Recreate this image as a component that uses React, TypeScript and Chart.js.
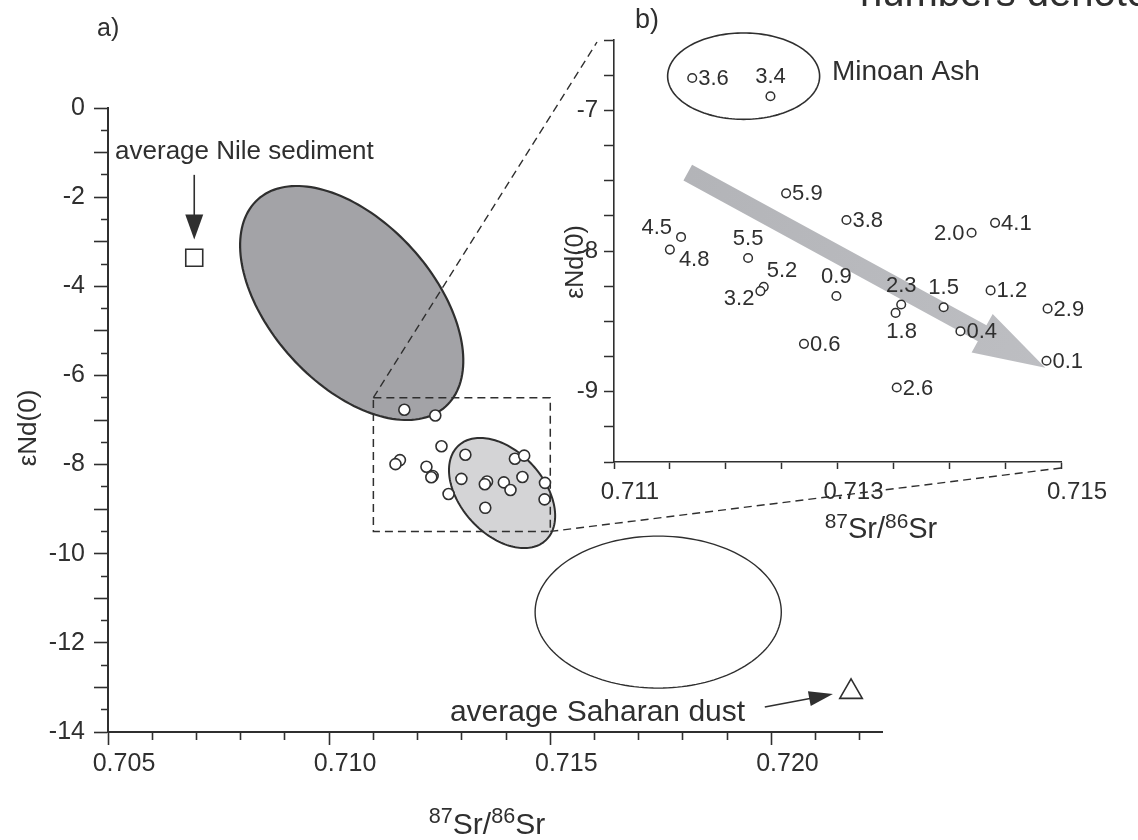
import React, { useEffect, useRef } from 'react';
import { Chart, registerables } from 'chart.js';

Chart.register(...registerables);

const FONT = '"Liberation Sans", Arial, Helvetica, sans-serif';
const INK = '#2f2f2f';

// ---------- data ----------
// Sediment samples: 87Sr/86Sr, eps Nd(0), and the numbers written next to them in panel b
const sampleAges = ['3.6', '3.4', '4.5', '4.8', '5.5', '5.2', '3.2', '5.9', '3.8', '0.9', '2.3', '1.8', '1.5', '0.6', '0.4', '2.0', '4.1', '1.2', '2.9', '0.1', '2.6'];
const sampleSr = [0.7117, 0.7124, 0.7116, 0.7115, 0.7122, 0.71234, 0.71231, 0.71254, 0.71308, 0.71299, 0.71357, 0.71352, 0.71395, 0.7127, 0.7141, 0.7142, 0.71441, 0.71437, 0.71488, 0.71487, 0.71353];
const sampleNd = [-6.77, -6.9, -7.9, -7.99, -8.05, -8.255, -8.285, -7.59, -7.78, -8.32, -8.38, -8.44, -8.4, -8.66, -8.57, -7.87, -7.8, -8.28, -8.41, -8.78, -8.97];
// where each number sits relative to its circle in panel b
const sampleLabelSide = ['r', 'a', 'ul', 'dr', 'a', 'ur', 'dl', 'r', 'r', 'a', 'a', 'b', 'a', 'r', 'r', 'l', 'r', 'r', 'r', 'r', 'r'];

const nileAvgSr = [0.70695];
const nileAvgNd = [-3.36];
const saharanAvgSr = [0.7218];
const saharanAvgNd = [-13.1];

const mainXTickLabels = ['0.705', '0.710', '0.715', '0.720'];
const mainYTickLabels = ['0', '-2', '-4', '-6', '-8', '-10', '-12', '-14'];
const insetXTickLabels = ['0.711', '0.713', '0.715'];
const insetYTickLabels = ['-7', '-8', '-9'];

const mainXRange = [0.705, 0.7225];
const mainYRange = [-14, 0];
const insetXRange = [0.711, 0.715];
const insetYRange = [-9.5, -6.5];

// fields (ellipses) in data units: centre + two conjugate semi-axes
const nileField = { cx: 0.71051, cy: -4.375, ux: 0.002124, uy: -2.322, vx: -0.001362, vy: -1.225 };
const coreField = { cx: 0.71391, cy: -8.638, ux: 0.000982, uy: -1.066, vx: -0.00069, vy: -0.626 };
const saharanField = { cx: 0.71744, cy: -11.31, ux: 0.002783, uy: 0, vx: 0, vy: 1.705 };
const minoanField = { cx: 0.71216, cy: -6.757, ux: 0.00068, uy: 0, vx: 0, vy: 0.307 };

// zoom box of panel a = extent of panel b
const zoomBoxSr = [0.711, 0.715];
const zoomBoxNd = [-9.5, -6.5];

// annotation arrows (start, end)
const nileArrowSr = [0.70695, 0.70695];
const nileArrowNd = [-1.5, -2.95];
const saharanArrowSr = [0.71985, 0.72139];
const saharanArrowNd = [-13.44, -13.15];
const trendArrowSr = [0.71166, 0.71486];
const trendArrowNd = [-7.443, -8.83];

// annotation text anchors
const nileTextAt = [0.70516, -1.14];
const saharanTextAt = [0.71273, -13.75];
const minoanTextAt = [0.71295, -6.786];

// ---------- helpers ----------
const labelFor = (labels: string[]) => (v: number) => {
  const hit = labels.find((l) => Math.abs(parseFloat(l) - v) < 1e-7);
  return hit ?? '';
};
const isLabelled = (labels: string[], v: number) => labels.some((l) => Math.abs(parseFloat(l) - v) < 1e-7);

function ellipsePath(ctx: CanvasRenderingContext2D, xs: any, ys: any, e: any) {
  ctx.beginPath();
  const n = 160;
  for (let i = 0; i <= n; i++) {
    const t = (i / n) * Math.PI * 2;
    const px = xs.getPixelForValue(e.cx + e.ux * Math.cos(t) + e.vx * Math.sin(t));
    const py = ys.getPixelForValue(e.cy + e.uy * Math.cos(t) + e.vy * Math.sin(t));
    if (i === 0) ctx.moveTo(px, py);
    else ctx.lineTo(px, py);
  }
  ctx.closePath();
}

function lineArrow(ctx: CanvasRenderingContext2D, x1: number, y1: number, x2: number, y2: number, headLen: number, headHalf: number, width: number) {
  const dx = x2 - x1, dy = y2 - y1;
  const L = Math.hypot(dx, dy);
  const ux = dx / L, uy = dy / L;
  const nx = -uy, ny = ux;
  const bx = x2 - ux * headLen, by = y2 - uy * headLen;
  ctx.save();
  ctx.strokeStyle = INK;
  ctx.fillStyle = INK;
  ctx.lineWidth = width;
  ctx.beginPath();
  ctx.moveTo(x1, y1);
  ctx.lineTo(bx + ux * 2, by + uy * 2);
  ctx.stroke();
  ctx.beginPath();
  ctx.moveTo(x2, y2);
  ctx.lineTo(bx + nx * headHalf, by + ny * headHalf);
  ctx.lineTo(bx - nx * headHalf, by - ny * headHalf);
  ctx.closePath();
  ctx.fill();
  ctx.restore();
}

function isotopeRatio(ctx: CanvasRenderingContext2D, cx: number, baseline: number, size: number) {
  const supSize = size * 0.72;
  const parts: [string, boolean][] = [['87', true], ['Sr/', false], ['86', true], ['Sr', false]];
  let total = 0;
  const widths = parts.map(([t, sup]) => {
    ctx.font = `${sup ? supSize : size}px ${FONT}`;
    const w = ctx.measureText(t).width;
    total += w;
    return w;
  });
  let x = cx - total / 2;
  ctx.textAlign = 'left';
  ctx.textBaseline = 'alphabetic';
  parts.forEach(([t, sup], i) => {
    ctx.font = `${sup ? supSize : size}px ${FONT}`;
    ctx.fillText(t, x, sup ? baseline - size * 0.36 : baseline);
    x += widths[i];
  });
}

function rotatedText(ctx: CanvasRenderingContext2D, text: string, cx: number, cy: number, size: number) {
  ctx.save();
  ctx.translate(cx, cy);
  ctx.rotate(-Math.PI / 2);
  ctx.font = `${size}px ${FONT}`;
  ctx.textAlign = 'center';
  ctx.textBaseline = 'middle';
  ctx.fillText(text, 0, 0);
  ctx.restore();
}

const W = 1138;
const H = 840;

export default function App() {
  const mainRef = useRef<HTMLCanvasElement>(null);
  const insetRef = useRef<HTMLCanvasElement>(null);

  useEffect(() => {
    const mainCanvas = mainRef.current;
    const insetCanvas = insetRef.current;
    if (!mainCanvas || !insetCanvas) return;

    const samplePoints = sampleSr.map((x, i) => ({ x, y: sampleNd[i] }));

    const panelA = {
      id: 'panelA',
      beforeDatasetsDraw(chart: any) {
        const { ctx } = chart;
        const xs = chart.scales.x, ys = chart.scales.y;
        ctx.save();
        ellipsePath(ctx, xs, ys, nileField);
        ctx.fillStyle = '#a3a3a7';
        ctx.fill();
        ctx.lineWidth = 2.2;
        ctx.strokeStyle = INK;
        ctx.stroke();
        ellipsePath(ctx, xs, ys, coreField);
        ctx.fillStyle = '#d4d4d6';
        ctx.fill();
        ctx.lineWidth = 2;
        ctx.stroke();
        ellipsePath(ctx, xs, ys, saharanField);
        ctx.lineWidth = 1.4;
        ctx.stroke();
        const x0 = xs.getPixelForValue(zoomBoxSr[0]);
        const x1 = xs.getPixelForValue(zoomBoxSr[1]);
        const y0 = ys.getPixelForValue(zoomBoxNd[1]);
        const y1 = ys.getPixelForValue(zoomBoxNd[0]);
        ctx.setLineDash([8, 5]);
        ctx.lineWidth = 1.5;
        ctx.strokeRect(x0, y0, x1 - x0, y1 - y0);
        ctx.restore();
      },
      afterDraw(chart: any) {
        const { ctx } = chart;
        const xs = chart.scales.x, ys = chart.scales.y;
        ctx.save();
        ctx.fillStyle = INK;
        // panel letter
        ctx.font = `25px ${FONT}`;
        ctx.textAlign = 'left';
        ctx.textBaseline = 'alphabetic';
        ctx.fillText('a)', 97, 36);
        // cut-off caption at the top
        ctx.font = `40px ${FONT}`;
        ctx.fillText('numbers denote', 860, 6);
        // annotations
        ctx.font = `26px ${FONT}`;
        ctx.fillText('average Nile sediment', xs.getPixelForValue(nileTextAt[0]), ys.getPixelForValue(nileTextAt[1]));
        ctx.font = `30px ${FONT}`;
        ctx.fillText('average Saharan dust', xs.getPixelForValue(saharanTextAt[0]), ys.getPixelForValue(saharanTextAt[1]));
        lineArrow(ctx, xs.getPixelForValue(nileArrowSr[0]), ys.getPixelForValue(nileArrowNd[0]), xs.getPixelForValue(nileArrowSr[1]), ys.getPixelForValue(nileArrowNd[1]), 25, 9, 1.6);
        lineArrow(ctx, xs.getPixelForValue(saharanArrowSr[0]), ys.getPixelForValue(saharanArrowNd[0]), xs.getPixelForValue(saharanArrowSr[1]), ys.getPixelForValue(saharanArrowNd[1]), 24, 7.5, 1.6);
        // axis titles
        ctx.fillStyle = INK;
        isotopeRatio(ctx, 487, 834, 30);
        rotatedText(ctx, 'εNd(0)', 29, 428, 26);
        ctx.restore();
      },
    };

    const mainChart = new Chart(mainCanvas, {
      type: 'scatter',
      data: {
        datasets: [
          {
            label: 'sediment samples',
            data: samplePoints,
            pointRadius: 5.5,
            pointBackgroundColor: '#ffffff',
            pointBorderColor: INK,
            pointBorderWidth: 1.6,
          },
          {
            label: 'average Nile sediment',
            data: nileAvgSr.map((x, i) => ({ x, y: nileAvgNd[i] })),
            pointStyle: 'rect',
            pointRadius: 12,
            pointBackgroundColor: '#ffffff',
            pointBorderColor: INK,
            pointBorderWidth: 1.6,
          },
          {
            label: 'average Saharan dust',
            data: saharanAvgSr.map((x, i) => ({ x, y: saharanAvgNd[i] })),
            pointStyle: 'triangle',
            pointRadius: 13,
            pointBackgroundColor: '#ffffff',
            pointBorderColor: INK,
            pointBorderWidth: 1.6,
          },
        ],
      },
      options: {
        responsive: false,
        animation: false,
        events: [],
        layout: { padding: { left: 0, top: 108, right: 256, bottom: 0 } },
        plugins: { legend: { display: false }, tooltip: { enabled: false }, title: { display: false } },
        scales: {
          x: {
            type: 'linear',
            min: mainXRange[0],
            max: mainXRange[1],
            afterFit: (s: any) => {
              s.height = 108;
              s.paddingLeft = 0; s.paddingRight = 0; s.paddingTop = 0; s.paddingBottom = 0;
            },
            border: { display: true, color: INK, width: 2 },
            grid: {
              display: true,
              drawOnChartArea: false,
              drawTicks: true,
              tickLength: 13,
              tickColor: INK,
              tickWidth: 1.6,
              tickBorderDash: (c: any) => (c.tick && isLabelled(mainXTickLabels, c.tick.value) ? [] : [7, 100]),
            },
            ticks: {
              stepSize: 0.001,
              includeBounds: false,
              autoSkip: false,
              maxRotation: 0,
              minRotation: 0,
              padding: 4,
              labelOffset: 16,
              color: INK,
              font: { family: FONT, size: 25 },
              callback: labelFor(mainXTickLabels),
            },
          },
          y: {
            type: 'linear',
            min: mainYRange[0],
            max: mainYRange[1],
            afterFit: (s: any) => {
              s.width = 108;
              s.paddingLeft = 0; s.paddingRight = 0; s.paddingTop = 0; s.paddingBottom = 0;
            },
            border: { display: true, color: INK, width: 2 },
            grid: {
              display: true,
              drawOnChartArea: false,
              drawTicks: true,
              tickLength: 14,
              tickColor: INK,
              tickWidth: 1.6,
              tickBorderDash: (c: any) => (c.tick && Math.abs(c.tick.value - Math.round(c.tick.value)) < 1e-6 ? [] : [0, 7, 7, 100]),
            },
            ticks: {
              stepSize: 0.5,
              autoSkip: false,
              padding: 9,
              color: INK,
              font: { family: FONT, size: 25 },
              callback: labelFor(mainYTickLabels),
            },
          },
        },
      },
      plugins: [panelA],
    } as any);

    const panelB = {
      id: 'panelB',
      beforeDatasetsDraw(chart: any) {
        const { ctx } = chart;
        const xs = chart.scales.x, ys = chart.scales.y;
        ctx.save();
        // broad grey trend arrow
        const x1 = xs.getPixelForValue(trendArrowSr[0]), y1 = ys.getPixelForValue(trendArrowNd[0]);
        const x2 = xs.getPixelForValue(trendArrowSr[1]), y2 = ys.getPixelForValue(trendArrowNd[1]);
        const L = Math.hypot(x2 - x1, y2 - y1);
        const ux = (x2 - x1) / L, uy = (y2 - y1) / L;
        const nx = -uy, ny = ux;
        const sw = 9, hw = 22, hl = 72;
        const bx = x2 - ux * hl, by = y2 - uy * hl;
        ctx.beginPath();
        ctx.moveTo(x1 + nx * sw, y1 + ny * sw);
        ctx.lineTo(bx + nx * sw, by + ny * sw);
        ctx.lineTo(bx + nx * hw, by + ny * hw);
        ctx.lineTo(x2, y2);
        ctx.lineTo(bx - nx * hw, by - ny * hw);
        ctx.lineTo(bx - nx * sw, by - ny * sw);
        ctx.lineTo(x1 - nx * sw, y1 - ny * sw);
        ctx.closePath();
        const g = ctx.createLinearGradient(x1, y1, x2, y2);
        g.addColorStop(0, '#b3b4b8');
        g.addColorStop(1, '#bdbec2');
        ctx.fillStyle = g;
        ctx.fill();
        // Minoan ash field
        ellipsePath(ctx, xs, ys, minoanField);
        ctx.strokeStyle = INK;
        ctx.lineWidth = 1.6;
        ctx.stroke();
        ctx.restore();
      },
      afterDatasetsDraw(chart: any) {
        const { ctx } = chart;
        const xs = chart.scales.x, ys = chart.scales.y;
        ctx.save();
        ctx.fillStyle = INK;
        ctx.font = `22px ${FONT}`;
        ctx.textBaseline = 'middle';
        sampleAges.forEach((txt, i) => {
          const px = xs.getPixelForValue(sampleSr[i]);
          const py = ys.getPixelForValue(sampleNd[i]);
          const side = sampleLabelSide[i];
          let tx = px, ty = py + 1;
          let align: CanvasTextAlign = 'left';
          if (side === 'r') { tx = px + 6; }
          else if (side === 'l') { tx = px - 7; align = 'right'; }
          else if (side === 'a') { ty = py - 19; align = 'center'; }
          else if (side === 'b') { tx = px + 6; ty = py + 19; align = 'center'; }
          else if (side === 'ul') { tx = px - 9; ty = py - 9; align = 'right'; }
          else if (side === 'dr') { tx = px + 9; ty = py + 10; }
          else if (side === 'ur') { tx = px + 3; ty = py - 16; }
          else if (side === 'dl') { tx = px - 6; ty = py + 8; align = 'right'; }
          ctx.textAlign = align;
          ctx.fillText(txt, tx, ty);
        });
        ctx.restore();
      },
      afterDraw(chart: any) {
        const { ctx, chartArea } = chart;
        const xs = chart.scales.x, ys = chart.scales.y;
        ctx.save();
        ctx.fillStyle = INK;
        ctx.textAlign = 'left';
        ctx.textBaseline = 'alphabetic';
        ctx.font = `27px ${FONT}`;
        ctx.fillText('b)', 635, 28);
        ctx.font = `28px ${FONT}`;
        ctx.fillText('Minoan Ash', xs.getPixelForValue(minoanTextAt[0]), ys.getPixelForValue(minoanTextAt[1]));
        isotopeRatio(ctx, 881, 538, 29);
        rotatedText(ctx, 'εNd(0)', 576, 262, 25);
        // connection lines from the zoom box in panel a
        const mx = mainChart.scales.x, my = mainChart.scales.y;
        ctx.setLineDash([8, 5]);
        ctx.strokeStyle = INK;
        ctx.lineWidth = 1.4;
        ctx.beginPath();
        ctx.moveTo(mx.getPixelForValue(zoomBoxSr[0]), my.getPixelForValue(zoomBoxNd[1]));
        ctx.lineTo(chartArea.left - 17, chartArea.top + 2);
        ctx.moveTo(mx.getPixelForValue(zoomBoxSr[1]), my.getPixelForValue(zoomBoxNd[0]));
        ctx.lineTo(xs.getPixelForValue(insetXRange[1]), chartArea.bottom + 6);
        ctx.stroke();
        ctx.restore();
      },
    };

    const insetChart = new Chart(insetCanvas, {
      type: 'scatter',
      data: {
        datasets: [
          {
            label: 'sediment samples',
            data: samplePoints,
            pointRadius: 4.3,
            pointBackgroundColor: '#ffffff',
            pointBorderColor: INK,
            pointBorderWidth: 1.5,
          },
        ],
      },
      options: {
        responsive: false,
        animation: false,
        events: [],
        layout: { padding: { left: 0, top: 40, right: 77, bottom: 0 } },
        plugins: { legend: { display: false }, tooltip: { enabled: false }, title: { display: false } },
        scales: {
          x: {
            type: 'linear',
            min: insetXRange[0],
            max: insetXRange[1],
            afterFit: (s: any) => {
              s.height = 378;
              s.paddingLeft = 0; s.paddingRight = 0; s.paddingTop = 0; s.paddingBottom = 0;
            },
            border: { display: true, color: INK, width: 1.6 },
            grid: { display: true, drawOnChartArea: false, drawTicks: true, tickLength: 7, tickColor: INK, tickWidth: 1.5 },
            ticks: {
              stepSize: 0.0005,
              includeBounds: false,
              autoSkip: false,
              maxRotation: 0,
              minRotation: 0,
              padding: 9,
              labelOffset: 16,
              color: INK,
              font: { family: FONT, size: 24 },
              callback: labelFor(insetXTickLabels),
            },
          },
          y: {
            type: 'linear',
            min: insetYRange[0],
            max: insetYRange[1],
            afterFit: (s: any) => {
              s.width = 614;
              s.paddingLeft = 0; s.paddingRight = 0; s.paddingTop = 0; s.paddingBottom = 0;
            },
            border: { display: true, color: INK, width: 1.6 },
            grid: { display: true, drawOnChartArea: false, drawTicks: true, tickLength: 10, tickColor: INK, tickWidth: 1.5 },
            ticks: {
              stepSize: 0.25,
              autoSkip: false,
              padding: 6,
              color: INK,
              font: { family: FONT, size: 24 },
              callback: labelFor(insetYTickLabels),
            },
          },
        },
      },
      plugins: [panelB],
    } as any);

    return () => {
      insetChart.destroy();
      mainChart.destroy();
    };
  }, []);

  return (
    <div style={{ position: 'absolute', left: 0, top: 0, width: W, height: H, background: '#ffffff' }}>
      <canvas ref={mainRef} width={W} height={H} style={{ position: 'absolute', left: 0, top: 0, width: W, height: H }} />
      <canvas ref={insetRef} width={W} height={H} style={{ position: 'absolute', left: 0, top: 0, width: W, height: H, pointerEvents: 'none' }} />
    </div>
  );
}
